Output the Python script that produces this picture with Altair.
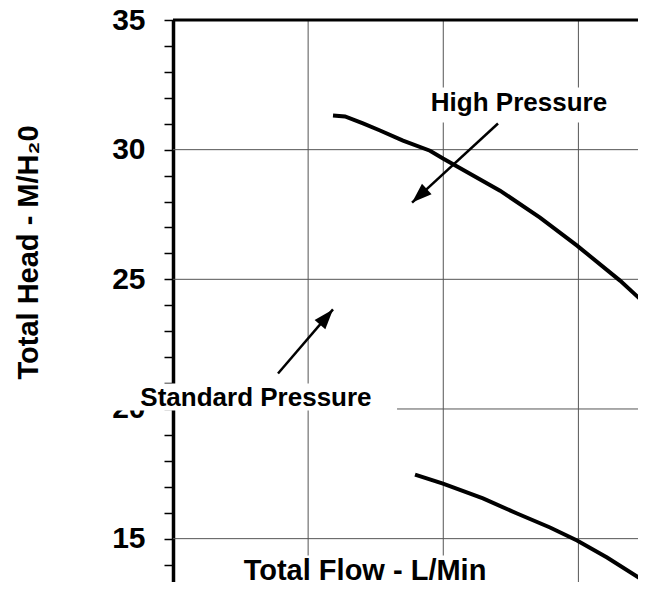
import altair as alt
import pandas as pd

FONT = "Liberation Sans"

# Upper pump curve (flow L/min, head m)
upper_flow = [11.84, 12.73, 14.06, 15.32, 17.02, 19.02, 19.98, 24.20, 27.16, 29.90, 33.08, 35.00, 36.0]
upper_head = [31.32, 31.28, 31.01, 30.74, 30.35, 29.96, 29.66, 28.42, 27.38, 26.30, 24.95, 24.03, 23.55]
# Lower pump curve
lower_flow = [17.91, 19.98, 22.94, 25.46, 27.90, 29.90, 32.12, 34.93, 36.0]
lower_head = [17.47, 17.12, 16.55, 15.97, 15.43, 14.93, 14.27, 13.35, 13.0]

# Grid values
grid_flow = [10, 20, 30]
grid_head = [15, 20, 25, 30]
tick_head = list(range(14, 36))

# Annotation labels with white backing boxes
ann_text = ["High Pressure", "Standard Pressure"]
ann_x = [25.60, 6.14]
ann_y = [31.80, 20.44]
box_x1 = [18.28, -4.51, 4.22]
box_x2 = [32.93, 16.58, 24.20]
box_y1 = [31.05, 19.94, 13.0]
box_y2 = [32.40, 20.98, 14.35]

xtitle_text = ["Total Flow - L/Min"]
xtitle_x = [14.21]
xtitle_y = [13.42]

# Arrows
arr_x1 = [24.05, 7.77]
arr_y1 = [31.01, 21.37]
arr_x2 = [17.69, 11.84]
arr_y2 = [27.96, 23.84]
arr_angle = [227.4, 40.7]

xs = alt.Scale(domain=[0, 34.41], nice=False, zero=False)
ys = alt.Scale(domain=[13.328, 35], nice=False, zero=False)


def X(field):
    return alt.X(field, type="quantitative", scale=xs, axis=None)


def Y(field):
    return alt.Y(field, type="quantitative", scale=ys, axis=None)


curves = pd.DataFrame({
    "flow": upper_flow + lower_flow,
    "head": upper_head + lower_head,
    "curve": ["upper"] * len(upper_flow) + ["lower"] * len(lower_flow),
})

yaxis = alt.Axis(
    values=tick_head,
    labelExpr="datum.value % 5 == 0 ? datum.label : ''",
    grid=False,
    domainColor="black",
    domainWidth=3.5,
    tickColor="black",
    tickWidth=1.5,
    tickSize=9,
    labelFont=FONT,
    labelFontSize=30,
    labelFontWeight="bold",
    labelColor="black",
    labelPadding=19,
    labelBaseline="middle",
    title="Total Head - M/H\u20820",
    titleFont=FONT,
    titleFontSize=29,
    titleFontWeight="bold",
    titleColor="black",
    titleX=-136,
    titleY=232,
    titleAlign="center",
    titleBaseline="alphabetic",
    titleAngle=270,
)

lines = alt.Chart(curves).mark_line(
    color="black", strokeWidth=4, clip=True
).encode(
    x=X("flow"),
    y=Y("head"),
    detail="curve:N",
)

hgrid = alt.Chart(pd.DataFrame({"head": grid_head})).mark_rule(
    color="#555555", strokeWidth=1
).encode(y=Y("head"))

yaxis_layer = alt.Chart(pd.DataFrame({"head": tick_head})).mark_rule(
    opacity=0
).encode(y=alt.Y("head", type="quantitative", scale=ys, axis=yaxis))

vgrid = alt.Chart(pd.DataFrame({"flow": grid_flow})).mark_rule(
    color="#555555", strokeWidth=1
).encode(x=X("flow"))

top_border = alt.Chart(pd.DataFrame({"head": [35]})).mark_rule(
    color="black", strokeWidth=3
).encode(y=Y("head"))

boxes = alt.Chart(pd.DataFrame({
    "x1": box_x1, "x2": box_x2, "y1": box_y1, "y2": box_y2
})).mark_rect(color="white").encode(
    x=X("x1"), x2="x2:Q", y=Y("y1"), y2="y2:Q",
)

ann = alt.Chart(pd.DataFrame({
    "t": ann_text, "x": ann_x, "y": ann_y
})).mark_text(
    font=FONT, fontSize=26, fontWeight="bold", color="black",
    align="center", baseline="middle"
).encode(x=X("x"), y=Y("y"), text="t:N")

xtitle = alt.Chart(pd.DataFrame({
    "t": xtitle_text, "x": xtitle_x, "y": xtitle_y
})).mark_text(
    font=FONT, fontSize=29, fontWeight="bold", color="black",
    align="center", baseline="alphabetic"
).encode(x=X("x"), y=Y("y"), text="t:N")

arrows_df = pd.DataFrame({
    "x1": arr_x1, "y1": arr_y1, "x2": arr_x2, "y2": arr_y2, "ang": arr_angle
})
shafts = alt.Chart(arrows_df).mark_rule(color="black", strokeWidth=2.5).encode(
    x=X("x1"), y=Y("y1"), x2="x2:Q", y2="y2:Q"
)
heads = alt.Chart(arrows_df).mark_point(
    shape="M0,0L0.53,1.5L-0.53,1.5Z", filled=True, color="black",
    size=711, opacity=1
).encode(
    x=X("x2"), y=Y("y2"),
    angle=alt.Angle("ang:Q", scale=None),
)

chart = alt.layer(
    yaxis_layer, hgrid, vgrid, lines, top_border, boxes, ann, xtitle, shafts, heads
).resolve_axis(
    x="independent", y="independent"
).properties(
    width=465,
    height=562,
    autosize=alt.AutoSizeParams(type="none"),
    padding={"left": 165, "top": 12, "right": 0, "bottom": 0},
).configure_view(stroke=None)

chart.save("out.html", embed_options={"renderer": "svg", "actions": False})
